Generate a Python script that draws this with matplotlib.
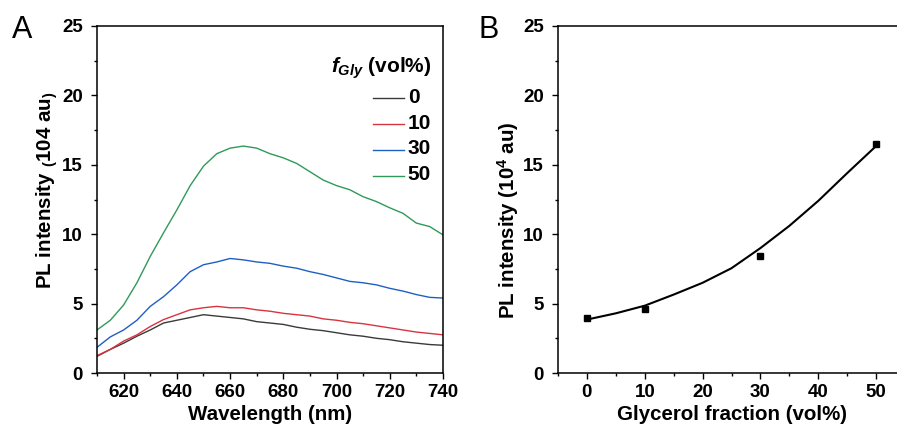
import numpy as np
import matplotlib
matplotlib.use("Agg")
import matplotlib.pyplot as plt
from matplotlib.ticker import MultipleLocator

plt.rcParams['font.family'] = ['Liberation Sans', 'DejaVu Sans']
plt.rcParams['mathtext.fontset'] = 'custom'
plt.rcParams['mathtext.it'] = 'Liberation Sans:italic:bold'
plt.rcParams['mathtext.bf'] = 'Liberation Sans:bold'
plt.rcParams['mathtext.rm'] = 'Liberation Sans:bold'

# panel A: PL spectra (5 nm steps)
wavelength = [610, 615, 620, 625, 630, 635, 640, 645, 650, 655, 660, 665, 670,
              675, 680, 685, 690, 695, 700, 705, 710, 715, 720, 725, 730, 735, 740]
pl_0 = [1.2, 1.7, 2.15, 2.65, 3.1, 3.6, 3.8, 4.0, 4.2, 4.1, 4.0, 3.9, 3.7,
        3.6, 3.5, 3.3, 3.15, 3.05, 2.9, 2.75, 2.65, 2.5, 2.4, 2.25, 2.15, 2.05, 2.0]
pl_10 = [1.25, 1.7, 2.3, 2.75, 3.35, 3.85, 4.2, 4.55, 4.7, 4.8, 4.7, 4.7, 4.55,
         4.45, 4.3, 4.2, 4.1, 3.9, 3.8, 3.65, 3.55, 3.4, 3.25, 3.1, 2.95, 2.85, 2.75]
pl_30 = [1.85, 2.6, 3.1, 3.8, 4.8, 5.5, 6.35, 7.3, 7.8, 8.0, 8.25, 8.15, 8.0,
         7.9, 7.7, 7.55, 7.3, 7.1, 6.85, 6.6, 6.5, 6.35, 6.1, 5.9, 5.65, 5.45, 5.4]
pl_50 = [3.1, 3.8, 4.9, 6.5, 8.4, 10.1, 11.75, 13.5, 14.9, 15.8, 16.2, 16.35, 16.2,
         15.8, 15.5, 15.1, 14.5, 13.9, 13.5, 13.2, 12.7, 12.35, 11.9, 11.5, 10.8, 10.55, 9.95]
series_labels = ['0', '10', '30', '50']
series_colors = ['#3a3a3a', '#d8343f', '#1f5fc4', '#2f9a58']

# panel B: peak intensity vs glycerol fraction, with fitted curve
gly_frac = [0, 10, 30, 50]
gly_pl = [3.95, 4.6, 8.4, 16.5]
fit_x = [0, 5, 10, 15, 20, 25, 30, 35, 40, 45, 50]
fit_y = [3.85, 4.3, 4.85, 5.65, 6.5, 7.55, 9.0, 10.6, 12.4, 14.4, 16.35]

fig = plt.figure(figsize=(8.97, 4.30), dpi=100)
axA = fig.add_axes([97/897, 57/430, 346/897, 347/430])
axB = fig.add_axes([558/897, 57/430, 347/897, 347/430])

def style(ax):
    for s in ['left', 'bottom', 'top', 'right']:
        ax.spines[s].set_linewidth(1.1)
    ax.tick_params(which='both', direction='out', top=False, right=False, width=1.0)
    ax.tick_params(which='major', length=4)
    ax.tick_params(which='minor', length=2)
    ax.tick_params(axis='y', pad=6)
    ax.tick_params(axis='x', pad=4)
    for lab in ax.get_xticklabels() + ax.get_yticklabels():
        lab.set_fontweight('bold')
        lab.set_fontsize(13.5)
    ax.set_ylim(0, 25)
    ax.yaxis.set_major_locator(MultipleLocator(5))
    ax.yaxis.set_minor_locator(MultipleLocator(2.5))

for ys, lab, c in zip([pl_0, pl_10, pl_30, pl_50], series_labels, series_colors):
    axA.plot(wavelength, ys, color=c, lw=1.0, label=lab)
axA.set_xlim(610, 740)
axA.xaxis.set_major_locator(MultipleLocator(20))
axA.xaxis.set_minor_locator(MultipleLocator(10))
style(axA)
axA.set_xlabel('Wavelength (nm)', fontsize=14.8, fontweight='bold', labelpad=3)
axA.set_ylabel('PL intensity $_($104 au$_)$', fontsize=14.8, fontweight='bold')
axA.yaxis.set_label_coords(-0.107, 0.527)
leg = axA.legend(title='$f_{Gly}$ (vol%)', frameon=False, loc='upper right',
                 bbox_to_anchor=(0.99, 0.94), handlelength=2.2, handletextpad=0.3,
                 labelspacing=0.5, alignment='right', borderaxespad=0.2)
leg.get_title().set_fontsize(15)
leg.get_title().set_fontweight('bold')
for t in leg.get_texts():
    t.set_fontsize(15)
    t.set_fontweight('bold')

axB.plot(fit_x, fit_y, color='black', lw=1.5)
axB.plot(gly_frac, gly_pl, 's', color='black', ms=4)
axB.set_xlim(-5, 55)
axB.xaxis.set_major_locator(MultipleLocator(10))
axB.xaxis.set_minor_locator(MultipleLocator(5))
style(axB)
axB.set_xlabel('Glycerol fraction (vol%)', fontsize=14.8, fontweight='bold', labelpad=3)
axB.set_ylabel('PL intensity (10$^4$ au)', fontsize=14.8, fontweight='bold')
axB.yaxis.set_label_coords(-0.107, 0.44)

fig.text(12/897, 1 - 38/430, 'A', fontsize=22)
fig.text(478/897, 1 - 38/430, 'B', fontsize=22)

fig.savefig('out.png', dpi=100)
